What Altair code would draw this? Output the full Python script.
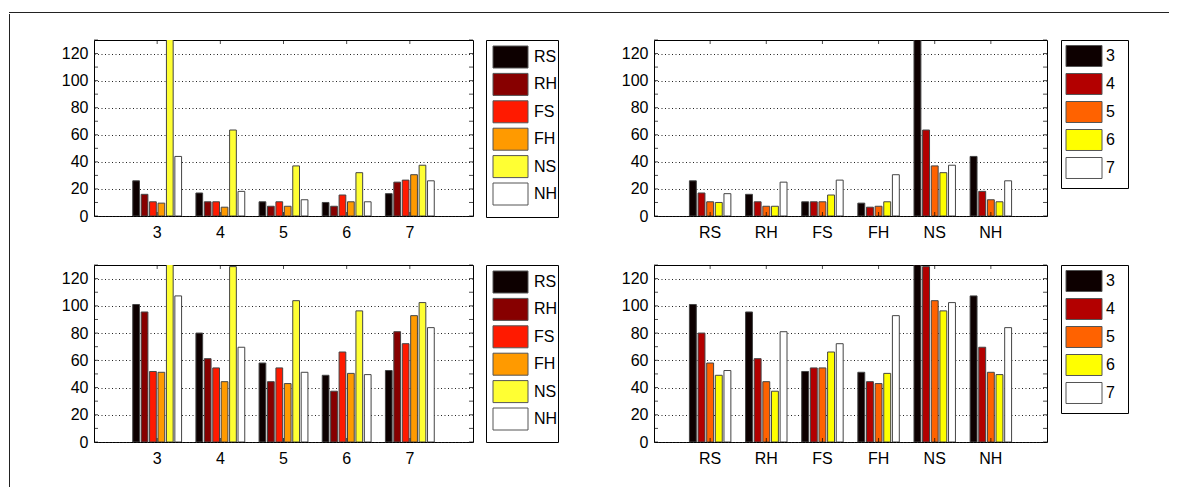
import altair as alt
import pandas as pd

series_names = ["RS", "RH", "FS", "FH", "NS", "NH"]
groups = ["3", "4", "5", "6", "7"]

# top pair of panels (values per group 3..7)
top_RS = [26, 17, 10.5, 10, 16.5]
top_RH = [16, 10.5, 7.2, 7.2, 25]
top_FS = [10.5, 10.5, 10.5, 15.5, 26.5]
top_FH = [9.5, 6.5, 7.2, 10.5, 30.5]
top_NS = [150, 63.5, 37, 32, 37.5]
top_NH = [44, 18.2, 12, 10.5, 26]

# bottom pair of panels
bot_RS = [101, 80, 58, 49, 52.5]
bot_RH = [95.5, 61.2, 44.3, 37.3, 81]
bot_FS = [51.8, 54.4, 54.4, 66.1, 72.2]
bot_FH = [51.2, 44.3, 42.9, 50.4, 92.8]
bot_NS = [150, 128.8, 103.8, 96.3, 102.4]
bot_NH = [107.3, 69.6, 51.2, 49.5, 84]

y_labels = [0, 20, 40, 60, 80, 100, 120]
y_minor = [0, 10, 20, 30, 40, 50, 60, 70, 80, 90, 100, 110, 120, 130]

series_colors = ["#0d0000", "#870000", "#ff1a00", "#ff9a00", "#ffff33", "#ffffff"]
group_colors = ["#0d0000", "#b30000", "#ff6200", "#ffff00", "#ffffff"]

FONT = "Liberation Sans"
FS_ = 16
IND = dict(color="independent", fill="independent", xOffset="independent")


def long_df(cols):
    rows = []
    for s, vals in zip(series_names, cols):
        for g, v in zip(groups, vals):
            rows.append({"series": s, "group": g, "val": v})
    return pd.DataFrame(rows)


top_df = long_df([top_RS, top_RH, top_FS, top_FH, top_NS, top_NH])
bot_df = long_df([bot_RS, bot_RH, bot_FS, bot_FH, bot_NS, bot_NH])


def panel(df, cat_field, ser_field, cats, sers, colors, width, height, p_inner, p_outer):
    xdef = alt.X(f"{cat_field}:N", sort=cats,
                 scale=alt.Scale(domain=cats, paddingInner=p_inner, paddingOuter=p_outer),
                 axis=alt.Axis(title=None, labelAngle=0, ticks=False, domain=False,
                               labelFontSize=FS_, labelPadding=8, labelColor="#000",
                               minExtent=30, maxExtent=30))
    ydef = alt.Y("val:Q", scale=alt.Scale(domain=[0, 130], nice=False),
                 axis=alt.Axis(title=None, values=y_labels, grid=True, gridDash=[1, 2.5],
                               gridColor="#222", gridOpacity=1, ticks=False, domain=False,
                               labelFontSize=FS_, labelPadding=6, labelColor="#000",
                               minExtent=40, maxExtent=40))
    bars = alt.Chart(df).mark_bar(clip=True, stroke="#444", strokeWidth=1).encode(
        x=xdef,
        xOffset=alt.XOffset(f"{ser_field}:N", sort=sers,
                            scale=alt.Scale(domain=sers, paddingInner=0.2, paddingOuter=0.1)),
        y=ydef,
        color=alt.Color(f"{ser_field}:N", scale=alt.Scale(domain=sers, range=colors), legend=None),
    )
    ydf = pd.DataFrame({"val": y_minor})
    cdf = pd.DataFrame({cat_field: cats})
    lt = alt.Chart(ydf).mark_tick(orient="horizontal", color="#000", size=4, thickness=1).encode(
        y=ydef, x=alt.value(2))
    rt = alt.Chart(ydf).mark_tick(orient="horizontal", color="#000", size=4, thickness=1).encode(
        y=ydef, x=alt.value(width - 2))
    tt = alt.Chart(cdf).mark_tick(orient="vertical", color="#000", size=4, thickness=1).encode(
        x=xdef, y=alt.value(2))
    bt = alt.Chart(cdf).mark_tick(orient="vertical", color="#000", size=4, thickness=1).encode(
        x=xdef, y=alt.value(height - 2))
    return alt.layer(bars, lt, rt, tt, bt).properties(
        width=width, height=height,
        view=alt.ViewBackground(stroke="#000", strokeWidth=1))


def legend(names, colors, width, height, y_range, sw_x, sw_w, sw_h, txt_x):
    ldf = pd.DataFrame({"name": names})
    ydef = alt.Y("name:N", sort=names,
                 scale=alt.Scale(type="point", domain=names, range=y_range, padding=0),
                 axis=None)
    r = sw_w / 2.0
    hh = (sw_h / 2.0) / r
    path = f"M-1,-{hh:.4f}H1V{hh:.4f}H-1Z"
    sw = alt.Chart(ldf).mark_point(shape=path, size=sw_w * sw_w, filled=True, opacity=1,
                                   stroke="#555", strokeWidth=1).encode(
        y=ydef, x=alt.value(sw_x),
        fill=alt.Fill("name:N", scale=alt.Scale(domain=names, range=colors), legend=None))
    tx = alt.Chart(ldf).mark_text(align="left", baseline="middle", fontSize=FS_, color="#000").encode(
        y=ydef, x=alt.value(txt_x), text="name:N")
    return alt.layer(sw, tx).properties(
        width=width, height=height,
        view=alt.ViewBackground(stroke="#000", strokeWidth=1))


def row(df, h):
    left = panel(df, "group", "series", groups, series_names, series_colors, 379, h, 0.2, 0.6)
    left_leg = legend(series_names, series_colors, 72, 177, [17, 154], 24.5, 35, 22, 48)
    right = panel(df, "series", "group", series_names, groups, group_colors, 393, h,
                  1 - 5 / 6.5, (1 - 5 / 6.5 + 1) / 2)
    right_leg = legend(groups, group_colors, 67, 148, [16, 128], 23, 36, 21, 45)
    return alt.hconcat(
        alt.hconcat(left, left_leg, spacing=11).resolve_scale(**IND),
        alt.hconcat(right, right_leg, spacing=12).resolve_scale(**IND),
        spacing=54).resolve_scale(**IND)


one = pd.DataFrame({"k": [0]})
spacer = alt.Chart(one).mark_rule(opacity=0).encode(
    x=alt.value(0), y=alt.value(0), y2=alt.value(1)).properties(width=1, height=8)

grid = alt.vconcat(spacer, row(top_df, 176), row(bot_df, 177), spacing=17).resolve_scale(**IND)

topline = alt.Chart(one).mark_rule(color="#222", strokeWidth=1).encode(
    x=alt.value(0), x2=alt.value(1160), y=alt.value(0.5)).properties(width=1160, height=1)
leftline = alt.Chart(one).mark_rule(color="#222", strokeWidth=1).encode(
    x=alt.value(0.5), y=alt.value(0), y2=alt.value(475)).properties(width=1, height=475)

chart = alt.vconcat(
    topline,
    alt.hconcat(leftline, grid, spacing=43).resolve_scale(**IND),
    spacing=0,
).resolve_scale(**IND).properties(
    padding={"left": 0, "top": 4, "right": 0, "bottom": 0},
    background="#ffffff",
).configure(font=FONT).configure_view(stroke=None).configure_axis(labelFont=FONT)

chart.save("out.html", embed_options={"renderer": "svg", "actions": False})
